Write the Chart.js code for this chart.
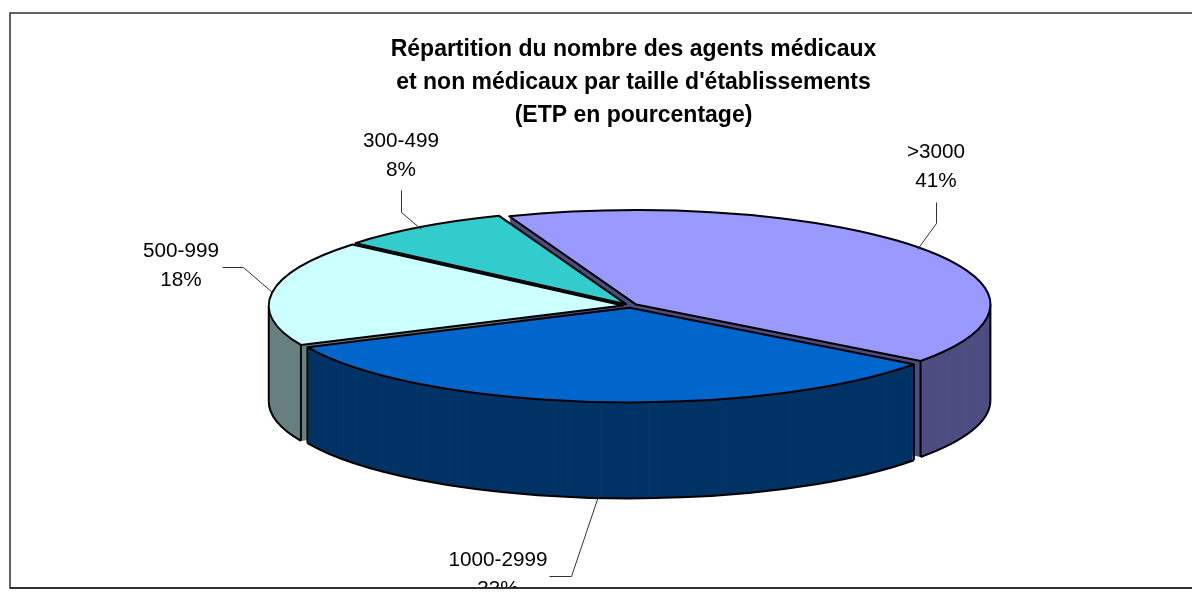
<!DOCTYPE html>
<html><head><meta charset="utf-8">
<style>html,body{margin:0;padding:0;background:#fff;overflow:hidden}canvas{display:block}</style>
<script src="https://cdn.jsdelivr.net/npm/chart.js@4"></script></head>
<body><div style="width:1192px;height:593px"><canvas id="c"></canvas></div>
<script>
const categories = ['>3000', '1000-2999', '500-999', '300-499'];
const values = [41, 33, 18, 8];
const titleLines = ['Répartition du nombre des agents médicaux', 'et non médicaux par taille d\'établissements', '(ETP en pourcentage)'];
const topColors = ['#9999FF', '#0066CC', '#CCFFFF', '#33CCCC'];
const sideColors = ['#4D4D80', '#003366', '#668080', '#1A6666'];
const drawOrder = [3, 2, 0, 1];
const labelCentres = [[936, 152], [498, 560], [181, 251], [401, 141]];
const leaders = [
  [[936, 202], [936, 223], [917, 249]],
  [[549, 576], [571, 576], [598, 496]],
  [[222, 267], [243, 267], [272, 292]],
  [[401, 190], [401, 212], [421, 229]]
];
const pieView = { cx: 630.3, cy: 305.8, rx: 354.2, ry: 94.6, depth: 96, shiftX: 7.4, shiftY: 2, labelLine: 29.5 };
const frame = { left: 10, top: 13, bottom: 588 };

const pie3d = {
  id: 'pie3d',
  beforeDraw(chart) {
    const c = chart.ctx;
    c.save();
    c.strokeStyle = '#222'; c.lineWidth = 1.4;
    c.strokeRect(frame.left, frame.top, 1400, frame.bottom - frame.top);
    c.restore();
  },
  beforeDatasetsDraw(chart) {
    const c = chart.ctx;
    const arcs = chart.getDatasetMeta(0).data;
    const R = arcs[0].outerRadius;
    const sx = pieView.rx / R, sy = pieView.ry / R;
    const fix = i => {
      const a = arcs[i], m = (a.startAngle + a.endAngle) / 2;
      return [pieView.cx + Math.cos(m) * pieView.shiftX, pieView.cy + Math.sin(m) * pieView.shiftY];
    };
    const fillArc = (i, color, dz) => {
      const a = arcs[i];
      const p = Object.create(a);
      p.options = Object.assign({}, a.options, { backgroundColor: color, borderWidth: 0 });
      const [x, y] = fix(i);
      c.save();
      c.translate(x, y + dz);
      c.scale(sx, sy);
      c.translate(-a.x, -a.y);
      p.draw(c);
      c.restore();
    };
    const pt = (i, t, dz) => {
      const [x, y] = fix(i);
      return [x + Math.cos(t) * pieView.rx, y + Math.sin(t) * pieView.ry + dz];
    };
    const vert = (i, t) => {
      const p = pt(i, t, 0);
      c.beginPath(); c.moveTo(p[0], p[1]); c.lineTo(p[0], p[1] + pieView.depth); c.stroke();
    };
    c.save();
    c.strokeStyle = '#000'; c.lineWidth = 2; c.lineJoin = 'round'; c.lineCap = 'butt';
    // walls, back to front
    drawOrder.forEach(i => {
      const a = arcs[i];
      for (let dz = pieView.depth; dz >= 1; dz--) fillArc(i, sideColors[i], dz);
      const s = Math.max(a.startAngle, 0), e = Math.min(a.endAngle, Math.PI);
      if (e > s) {
        const [x, y] = fix(i);
        c.beginPath();
        c.ellipse(x, y + pieView.depth, pieView.rx, pieView.ry, 0, s, e);
        c.stroke();
      }
      [a.startAngle, a.endAngle].forEach(t => { if (Math.sin(t) > 0) vert(i, t); });
      if (a.startAngle < 0 && a.endAngle > 0) vert(i, 0);
      if (a.startAngle < Math.PI && a.endAngle > Math.PI) vert(i, Math.PI);
    });
    // top faces
    drawOrder.forEach(i => {
      const a = arcs[i];
      fillArc(i, topColors[i], 0);
      const [x, y] = fix(i);
      c.beginPath();
      c.moveTo(x, y);
      c.ellipse(x, y, pieView.rx, pieView.ry, 0, a.startAngle, a.endAngle);
      c.closePath();
      c.stroke();
    });
    c.restore();
    // leaders and labels
    c.save();
    c.beginPath();
    c.rect(0, 0, 1192, frame.bottom - 0.5);
    c.clip();
    c.strokeStyle = '#333'; c.lineWidth = 1;
    leaders.forEach(l => {
      c.beginPath();
      l.forEach((p, k) => k ? c.lineTo(p[0] + 0.5, p[1] + 0.5) : c.moveTo(p[0] + 0.5, p[1] + 0.5));
      c.stroke();
    });
    c.fillStyle = '#000';
    c.font = '20.7px "Liberation Sans"';
    c.textAlign = 'center'; c.textBaseline = 'middle';
    categories.forEach((name, i) => {
      const [x, y] = labelCentres[i];
      c.fillText(name, x, y);
      c.fillText(values[i] + '%', x, y + pieView.labelLine);
    });
    c.restore();
    return false;
  },
  afterDraw(chart) {
    const c = chart.ctx;
    c.save();
    c.strokeStyle = '#222'; c.lineWidth = 1.4;
    c.beginPath(); c.moveTo(frame.left, frame.bottom); c.lineTo(1192, frame.bottom); c.stroke();
    c.restore();
  }
};

new Chart(document.getElementById('c'), {
  type: 'pie',
  data: { labels: categories, datasets: [{ data: values, backgroundColor: topColors, borderWidth: 0 }] },
  options: {
    responsive: true, maintainAspectRatio: false, animation: false,
    rotation: -21,
    layout: { padding: { left: 75, right: 0, top: 33, bottom: 10 } },
    plugins: {
      legend: { display: false },
      tooltip: { enabled: false },
      title: { display: true, text: titleLines, color: '#000',
        font: { family: '"Liberation Sans"', size: 23, weight: 'bold', lineHeight: 1.43 },
        padding: { top: 0, bottom: 10 } }
    }
  },
  plugins: [pie3d]
});
</script></body></html>
